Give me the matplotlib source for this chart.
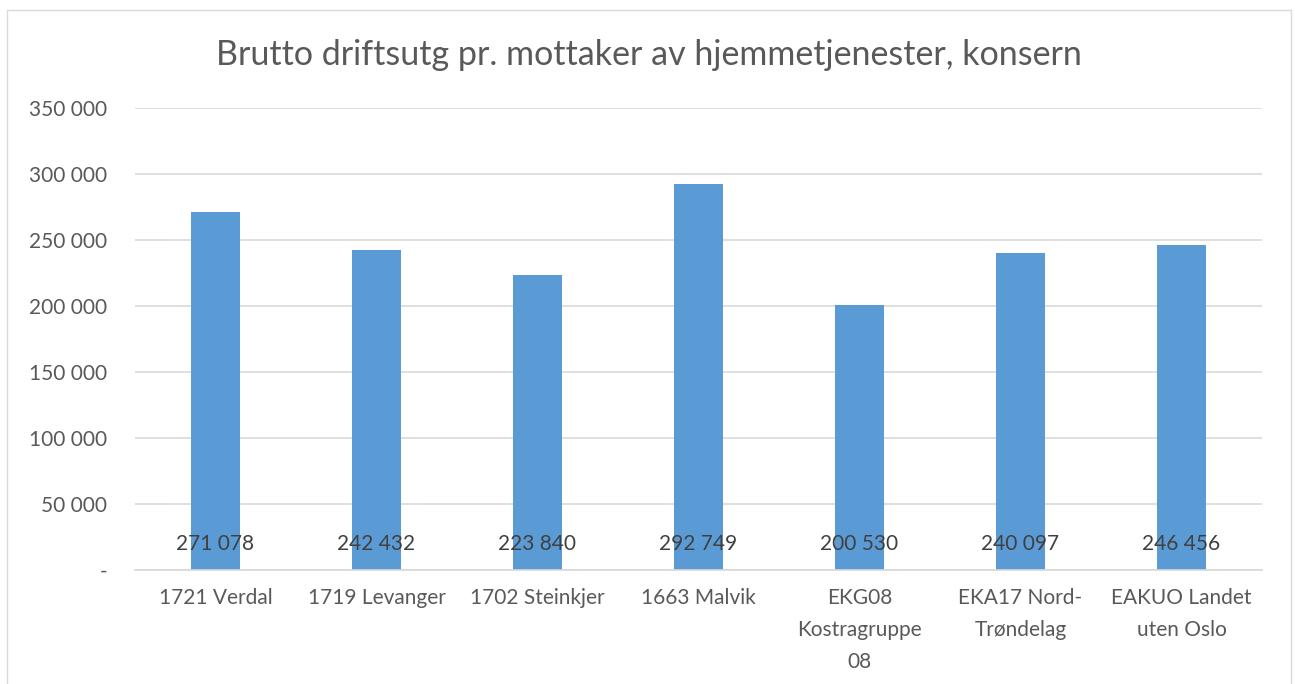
import matplotlib.pyplot as plt
from matplotlib.patches import Rectangle

plt.rcParams['font.family'] = ['Lato', 'DejaVu Sans']

categories = ['1721 Verdal', '1719 Levanger', '1702 Steinkjer', '1663 Malvik',
              'EKG08\nKostragruppe\n08', 'EKA17 Nord-\nTrøndelag', 'EAKUO Landet\nuten Oslo']
values = [271078, 242432, 223840, 292749, 200530, 240097, 246456]
yticks = [0, 50000, 100000, 150000, 200000, 250000, 300000, 350000]
title = 'Brutto driftsutg pr. mottaker av hjemmetjenester, konsern'


def fmt(v):
    if v == 0:
        return '-'
    return f'{v:,}'.replace(',', ' ')


fig = plt.figure(figsize=(12.95, 6.84), dpi=100)
ax = fig.add_axes([135/1295, 114/684, (1262-135)/1295, (570-108)/684])

x = range(len(values))
ax.bar(x, values, width=0.31, color='#5B9BD5', zorder=2)

for i, v in zip(x, values):
    ax.annotate(fmt(v), xy=(i, 0), xytext=(0, 19), textcoords='offset points',
                ha='center', va='center', fontsize=15, color='#404040', zorder=3)

ax.set_xlim(-0.5, len(values) - 0.5)
ax.set_ylim(0, 350000)
ax.set_yticks(yticks)
ax.set_yticklabels([fmt(t) for t in yticks])
ax.set_xticks(list(x))
ax.set_xticklabels(categories, linespacing=1.75)
ax.tick_params(axis='both', length=0, labelsize=15, labelcolor='#595959')
ax.tick_params(axis='y', pad=20)
ax.tick_params(axis='x', pad=13)
for lbl in ax.get_xticklabels():
    lbl.set_va('top')

ax.grid(axis='y', color='#D9D9D9', linewidth=1.2, zorder=0)
for s in ['top', 'right', 'left']:
    ax.spines[s].set_visible(False)
ax.spines['bottom'].set_color('#D9D9D9')
ax.spines['bottom'].set_linewidth(1.2)

fig.text(649/1295, 1 - 55/684, title, ha='center', va='center',
         fontsize=24.5, color='#595959')

fig.patches.append(Rectangle((7/1295, -0.1), (1291-7)/1295, 1.1 - 10/684,
                             transform=fig.transFigure, fill=False,
                             edgecolor='#D9D9D9', linewidth=1))

fig.savefig('out.png', dpi=100)
